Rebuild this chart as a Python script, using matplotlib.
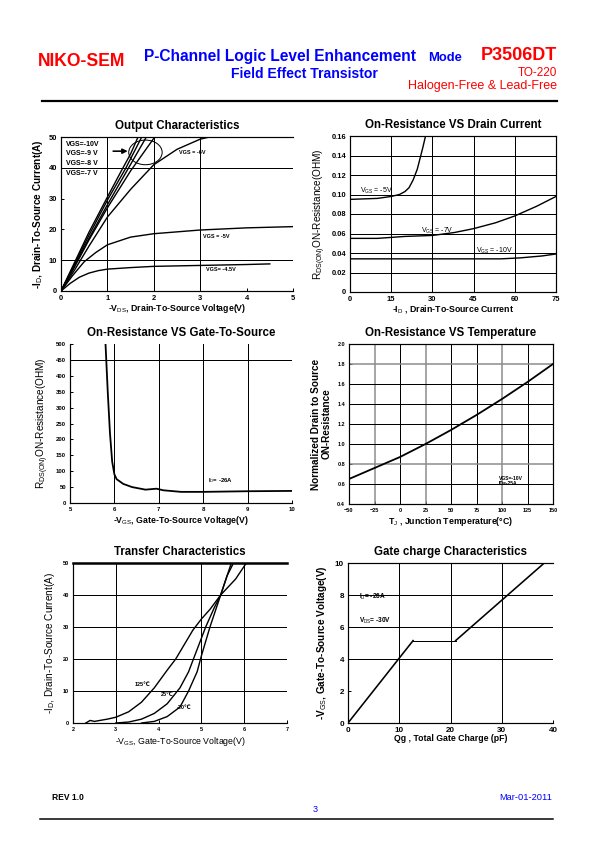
import numpy as np
import matplotlib
matplotlib.use('Agg')
import matplotlib.pyplot as plt
from matplotlib.patches import Ellipse
from matplotlib.ticker import FuncFormatter

plt.rcParams['font.family'] = ['Liberation Sans', 'DejaVu Sans']
plt.rcParams['mathtext.fontset'] = 'custom'
plt.rcParams['mathtext.rm'] = 'Liberation Sans'
plt.rcParams['mathtext.bf'] = 'Liberation Sans:bold'

# ---- output characteristics (-VDS, -ID) ----
vds_10v = [0, 0.3, 0.6, 1.0, 1.3, 1.5, 1.66]
id_10v = [0, 9.5, 19, 30.5, 39, 44.5, 50]
vds_9v = [0, 0.3, 0.6, 1.0, 1.4, 1.74]
id_9v = [0, 9, 18, 29.5, 40, 50]
vds_8v = [0, 0.3, 0.6, 1.0, 1.4, 1.84]
id_8v = [0, 8.5, 17, 28, 38.5, 50]
vds_7v = [0, 0.3, 0.6, 1.0, 1.5, 2.02]
id_7v = [0, 8, 16.5, 27, 39, 50]
vds_6v = [0, 0.3, 0.6, 1.0, 1.5, 2.0, 2.5, 3.0, 3.2]
id_6v = [0, 7, 14.5, 24, 33, 41, 46, 49.3, 50]
vds_5v = [0, 0.25, 0.5, 0.75, 1.0, 1.5, 2.0, 3.0, 4.0, 5.0]
id_5v = [0, 5, 9.5, 12.5, 15, 17.5, 18.6, 19.8, 20.5, 20.9]
vds_45v = [0, 0.2, 0.4, 0.6, 0.8, 1.0, 1.5, 2.0, 3.0, 4.0, 4.5]
id_45v = [0, 2.5, 4.5, 5.8, 6.6, 7.1, 7.6, 8.0, 8.3, 8.6, 8.8]

# ---- on-resistance vs drain current ----
rid_5v_x = [0, 5, 10, 15, 18, 20, 21.5, 23, 24.5, 25.5, 26.5, 27.5]
rid_5v_y = [0.095, 0.0955, 0.096, 0.098, 0.100, 0.103, 0.107, 0.115, 0.126, 0.137, 0.148, 0.160]
rid_7v_x = [0, 10, 20, 30, 38, 45, 53, 60, 68, 75]
rid_7v_y = [0.055, 0.055, 0.057, 0.058, 0.061, 0.065, 0.071, 0.078, 0.088, 0.098]
rid_10v_x = [0, 15, 30, 45, 55, 62, 70, 75]
rid_10v_y = [0.034, 0.034, 0.034, 0.034, 0.034, 0.035, 0.037, 0.039]

# ---- on-resistance vs gate-to-source ----
rvg_x = [5.8, 5.85, 5.9, 5.95, 6.0, 6.05, 6.2, 6.4, 6.7, 6.95, 7.1, 7.5, 8.0, 9.0, 10.0]
rvg_y = [500, 350, 220, 130, 90, 75, 60, 50, 42, 45, 40, 35, 35, 37, 38]

# ---- on-resistance vs temperature ----
temp_c = [-50, -25, 0, 25, 50, 75, 100, 125, 150]
rds_norm = [0.65, 0.76, 0.87, 1.0, 1.14, 1.29, 1.45, 1.62, 1.80]

# ---- transfer characteristics ----
vgs_125 = [2.3, 2.4, 2.5, 2.8, 3.0, 3.3, 3.6, 3.9, 4.2, 4.4, 4.6, 4.8, 5.0, 5.2, 5.45, 5.8, 6.05]
id_125 = [0, 0.8, 0.5, 1.2, 1.8, 3.5, 6.5, 11, 16.5, 20, 24.5, 29, 32.5, 35.5, 40, 45, 50]
vgs_25 = [3.0, 3.3, 3.6, 3.9, 4.2, 4.5, 4.7, 4.9, 5.1, 5.3, 5.45, 5.6, 5.75]
id_25 = [0, 0.3, 1.2, 3, 6, 11, 16, 23, 30, 36, 40, 46, 50]
vgs_m20 = [3.6, 3.9, 4.2, 4.5, 4.7, 4.9, 5.0, 5.2, 5.4, 5.5, 5.6, 5.7]
id_m20 = [0, 0.5, 2, 5, 10, 16, 21, 30, 38, 42, 46, 50]

# ---- gate charge ----
qg = [0, 12.7, 21, 38.3]
vgs_qg = [0, 5.15, 5.15, 10]

W, H = 595, 842
fig = plt.figure(figsize=(W / 72, H / 72), dpi=72)
fig.patch.set_facecolor('white')

RED = '#ff0000'
BLUE = '#0000ff'
TITLE = 11.5
XL = 8.8
YL = 10


def box(l, t, r, b):
    return [l / W, 1 - b / H, (r - l) / W, (b - t) / H]


def ftxt(x, y, s, **kw):
    fig.text(x / W, 1 - y / H, s, **kw)


def hline(y, x0, x1, lw):
    fig.add_artist(plt.Line2D([x0 / W, x1 / W], [1 - y / H, 1 - y / H], color='black', lw=lw))


def setup(ax, tsize, spines=('left', 'bottom', 'top', 'right')):
    for s in ['left', 'bottom', 'top', 'right']:
        ax.spines[s].set_visible(s in spines)
        ax.spines[s].set_linewidth(1.2)
    ax.tick_params(direction='in', length=3, width=1, labelsize=tsize, pad=4)
    for lab in ax.get_xticklabels() + ax.get_yticklabels():
        lab.set_fontweight('bold')


# header
ftxt(38, 62, 'NIKO-SEM', color=RED, fontsize=17.5, fontweight='bold', va='center')
ftxt(144, 56.5, 'P-Channel Logic Level Enhancement', color=BLUE, fontsize=15.5, fontweight='bold', va='center')
ftxt(428, 58, 'Mode', color=BLUE, fontsize=13, fontweight='bold', va='center')
ftxt(304, 74.5, 'Field Effect Transistor', color=BLUE, fontsize=14, fontweight='bold', va='center', ha='center')
ftxt(557, 55.5, 'P3506DT', color=RED, fontsize=18, fontweight='bold', va='center', ha='right')
ftxt(557, 73, 'TO-220', color=RED, fontsize=11.8, va='center', ha='right')
ftxt(557, 86.5, 'Halogen-Free & Lead-Free', color=RED, fontsize=12.5, va='center', ha='right')
hline(101, 42, 557, 2.2)

# footer
ftxt(52, 797, 'REV 1.0', fontsize=8.5, fontweight='bold', va='center')
ftxt(315, 809, '3', color=BLUE, fontsize=9, va='center', ha='center')
ftxt(552, 797, 'Mar-01-2011', color=BLUE, fontsize=9.3, va='center', ha='right')
hline(819, 40, 553, 1.5)

lw = 1.4

# 1. Output characteristics
ax = fig.add_axes(box(61, 137, 293, 291))
for vx, iy in [(vds_10v, id_10v), (vds_9v, id_9v), (vds_8v, id_8v), (vds_7v, id_7v),
               (vds_6v, id_6v), (vds_5v, id_5v), (vds_45v, id_45v)]:
    ax.plot(vx, iy, color='black', lw=lw)
for gx in [1, 2, 3]:
    ax.axvline(gx, color='black', lw=1)
for gy in [10, 40]:
    ax.axhline(gy, color='black', lw=1)
ax.set_xlim(0, 5)
ax.set_ylim(0, 50)
ax.set_xticks(range(0, 6))
ax.set_yticks(range(0, 51, 10))
setup(ax, 7.5, ('left', 'bottom', 'top'))
ax.add_patch(Ellipse((1.82, 45), 0.72, 8, fill=False, lw=1, color='black'))
ax.annotate('', xy=(1.48, 45.4), xytext=(1.08, 45.4),
            arrowprops=dict(arrowstyle='-|>', lw=1.6, color='black', mutation_scale=10))
for yy, s in [(47.6, 'VGS=-10V'), (44.5, 'VGS=-9 V'), (41.3, 'VGS=-8 V'), (38.3, 'VGS=-7 V')]:
    ax.text(0.1, yy, s, fontsize=7, fontweight='bold', va='center')
ax.text(2.55, 45, 'VGS = -6V', fontsize=5.5, fontweight='bold', va='center')
ax.text(3.06, 17.6, 'VGS = -5V', fontsize=5.5, fontweight='bold', va='center')
ax.text(3.13, 7.0, 'VGS= -4.5V', fontsize=5.5, fontweight='bold', va='center')
ax.set_title('Output Characteristics', fontsize=TITLE, fontweight='bold', pad=8)
ax.set_xlabel(r'-V$_{\mathrm{DS}}$, Drain-To-Source Voltage(V)', fontsize=XL, fontweight='bold', labelpad=0)
ax.set_ylabel(r'-I$_{\mathrm{D}}$, Drain-To-Source Current(A)', fontsize=YL, fontweight='bold', labelpad=4)

# 2. On-resistance vs drain current
ax = fig.add_axes(box(350, 136, 556, 292))
ax.plot(rid_5v_x, rid_5v_y, color='black', lw=lw)
ax.plot(rid_7v_x, rid_7v_y, color='black', lw=lw)
ax.plot(rid_10v_x, rid_10v_y, color='black', lw=lw)
for gx in [15, 30, 45, 60]:
    ax.axvline(gx, color='black', lw=1)
for gy in np.arange(0.02, 0.159, 0.02):
    ax.axhline(gy, color='black', lw=1)
ax.set_xlim(0, 75)
ax.set_ylim(0, 0.16)
ax.set_xticks(range(0, 76, 15))
ax.set_yticks(np.arange(0, 0.161, 0.02))
ax.yaxis.set_major_formatter(FuncFormatter(lambda v, p: '0' if abs(v) < 1e-9 else f'{v:.2f}'))
setup(ax, 7.5)
ax.text(3.5, 0.1035, r'V$_{\mathrm{GS}}$ = -5V', fontsize=7, va='center')
ax.text(26, 0.0625, r'V$_{\mathrm{GS}}$ = -7V', fontsize=7, va='center')
ax.text(46, 0.0425, r'V$_{\mathrm{GS}}$ = -10V', fontsize=7, va='center')
ax.set_title('On-Resistance VS Drain Current', fontsize=TITLE, fontweight='bold', pad=8)
ax.set_xlabel(r'-I$_{\mathrm{D}}$ , Drain-To-Source Current', fontsize=XL, fontweight='bold', labelpad=0)
ax.set_ylabel(r'R$_{\mathrm{DS(ON)}}$ON-Resistance(OHM)', fontsize=YL, labelpad=3)

# 3. On-resistance vs gate-to-source
ax = fig.add_axes(box(70, 344, 292, 503))
ax.plot(rvg_x, rvg_y, color='black', lw=1.8)
for gx in [6, 7, 8, 9]:
    ax.axvline(gx, color='black', lw=1)
ax.axhline(450, color='black', lw=1)
ax.set_xlim(5, 10)
ax.set_ylim(0, 500)
ax.set_xticks(range(5, 11))
ax.set_yticks(range(0, 501, 50))
setup(ax, 6, ('left', 'bottom'))
ax.text(8.1, 72, r'I$_{\mathrm{D}}$= -26A', fontsize=6, fontweight='bold', va='center')
ax.set_title('On-Resistance VS Gate-To-Source', fontsize=TITLE, fontweight='bold', pad=8)
ax.set_xlabel(r'-V$_{\mathrm{GS}}$, Gate-To-Source Voltage(V)', fontsize=XL, fontweight='bold', labelpad=2)
ax.set_ylabel(r'R$_{\mathrm{DS(ON)}}$ON-Resistance(OHM)', fontsize=YL, labelpad=5)

# 4. On-resistance vs temperature
ax = fig.add_axes(box(349, 344, 553, 504))
GREY = '#8a8a8a'
for gx, c in [(-25, GREY), (0, 'black'), (25, GREY), (50, 'black'), (75, 'black'), (100, GREY), (125, 'black')]:
    ax.axvline(gx, color=c, lw=1.5 if c == GREY else 1)
for gy, c in [(0.6, 'black'), (0.8, GREY), (1.0, 'black'), (1.2, 'black'), (1.4, 'black'), (1.6, 'black'), (1.8, GREY)]:
    ax.axhline(gy, color=c, lw=1.5 if c == GREY else 1)
ax.plot(temp_c, rds_norm, color='black', lw=1.8)
ax.set_xlim(-50, 150)
ax.set_ylim(0.4, 2.0)
ax.set_xticks(range(-50, 151, 25))
ax.set_yticks(np.arange(0.4, 2.01, 0.2))
ax.yaxis.set_major_formatter(FuncFormatter(lambda v, p: f'{v:.1f}'))
setup(ax, 5.5)
ax.text(97, 0.63, 'VGS=-10V\nID=-25A', fontsize=5, fontweight='bold', va='center', linespacing=1.2)
ax.set_title('On-Resistance VS Temperature', fontsize=TITLE, fontweight='bold', pad=8)
ax.set_xlabel(r'T$_{\mathrm{J}}$ , Junction Temperature(°C)', fontsize=XL, fontweight='bold', labelpad=2)
ax.set_ylabel('Normalized Drain to Source\nON-Resistance', fontsize=YL, fontweight='bold', labelpad=5)

# 5. Transfer characteristics
ax = fig.add_axes(box(73, 563, 287, 723))
ax.plot(vgs_125, id_125, color='black', lw=lw)
ax.plot(vgs_25, id_25, color='black', lw=lw)
ax.plot(vgs_m20, id_m20, color='black', lw=lw)
for gx in [3, 5, 6]:
    ax.axvline(gx, color='black', lw=1)
for gy in [10, 20, 30, 40]:
    ax.axhline(gy, color='black', lw=1)
ax.set_xlim(2, 7)
ax.set_ylim(0, 50)
ax.set_xticks(range(2, 8))
ax.set_yticks(range(0, 51, 10))
setup(ax, 5.5, ('left', 'bottom', 'top'))
ax.spines['top'].set_linewidth(2.5)
ax.text(3.45, 12, '125℃', fontsize=5.5, fontweight='bold', va='center')
ax.text(4.05, 9, '25℃', fontsize=5.5, fontweight='bold', va='center')
ax.text(4.42, 4.7, '-20℃', fontsize=5.5, fontweight='bold', va='center')
ax.set_title('Transfer Characteristics', fontsize=TITLE, fontweight='bold', pad=8)
ax.set_xlabel(r'-V$_{\mathrm{GS}}$, Gate-To-Source Voltage(V)', fontsize=XL, labelpad=3)
ax.set_ylabel(r'-I$_{\mathrm{D}}$, Drain-To-Source Current(A)', fontsize=YL, labelpad=6)

# 6. Gate charge characteristics
ax = fig.add_axes(box(348, 563, 553, 723))
ax.plot(qg[:2], vgs_qg[:2], color='black', lw=1.6)
ax.plot(qg[1:3], vgs_qg[1:3], color='black', lw=1)
ax.plot(qg[2:], vgs_qg[2:], color='black', lw=1.6)
for gx in [10, 20, 30]:
    ax.axvline(gx, color='black', lw=1)
for gy in [4, 6, 8]:
    ax.axhline(gy, color='black', lw=1)
ax.set_xlim(0, 40)
ax.set_ylim(0, 10)
ax.set_xticks(range(0, 41, 10))
ax.set_yticks(range(0, 11, 2))
setup(ax, 8, ('left', 'bottom', 'top'))
ax.text(2.2, 7.9, r'I$_{\mathrm{D}}$= -26A', fontsize=6.5, fontweight='bold', va='center')
ax.text(2.2, 6.4, r'V$_{\mathrm{DS}}$= -30V', fontsize=6.5, fontweight='bold', va='center')
ax.set_title('Gate charge Characteristics', fontsize=TITLE, fontweight='bold', pad=8)
ax.set_xlabel(r'Qg , Total Gate Charge (pF)', fontsize=XL, fontweight='bold', labelpad=0)
ax.set_ylabel(r'-V$_{\mathrm{GS}}$, Gate-To-Source Voltage(V)', fontsize=YL, fontweight='bold', labelpad=6)

fig.savefig('out.png', dpi=72, facecolor='white')
